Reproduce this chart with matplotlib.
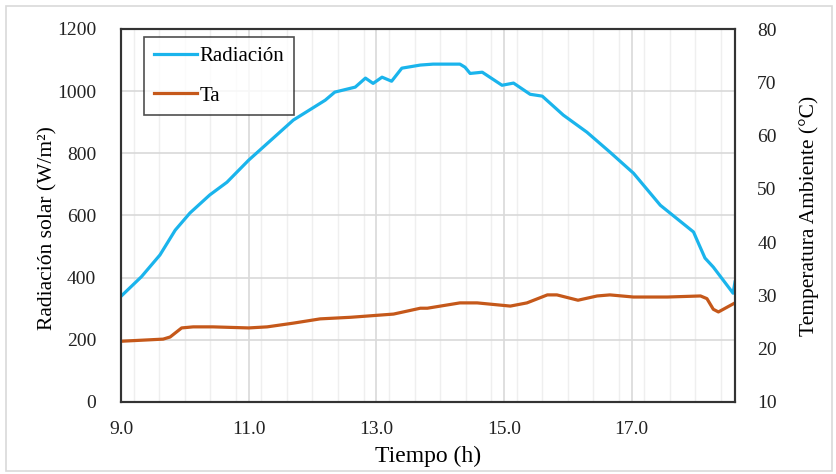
import numpy as np
import matplotlib
matplotlib.use("Agg")
import matplotlib.pyplot as plt
from matplotlib.patches import Rectangle
from matplotlib.ticker import MultipleLocator

# radiacion solar (W/m2) vs hora
t_rad = [9.0, 9.32, 9.61, 9.85, 10.08, 10.39, 10.66, 11.0, 11.7, 12.2, 12.35,
         12.67, 12.83, 12.95, 13.09, 13.24, 13.4, 13.69, 13.89, 14.31, 14.39,
         14.47, 14.66, 14.97, 15.15, 15.41, 15.6, 15.93, 16.3, 16.66, 17.03,
         17.45, 17.97, 18.04, 18.15, 18.28, 18.59, 18.62]
rad = [340, 403, 473, 553, 608, 666, 707, 778, 907, 971, 997,
       1013, 1042, 1025, 1045, 1032, 1074, 1084, 1087, 1087, 1077,
       1057, 1061, 1019, 1026, 990, 984, 923, 868, 804, 736,
       633, 547, 514, 463, 434, 350, 386]

# temperatura ambiente (C)
t_ta = [9.0, 9.66, 9.77, 9.95, 10.13, 10.44, 11.0, 11.29, 11.7, 12.12, 12.6,
        13.27, 13.69, 13.8, 14.31, 14.58, 15.1, 15.36, 15.68, 15.83, 16.16,
        16.46, 16.66, 17.03, 17.56, 18.08, 18.18, 18.28, 18.36, 18.62]
ta = [21.4, 21.8, 22.2, 23.9, 24.1, 24.1, 23.9, 24.1, 24.8, 25.6, 25.9,
      26.5, 27.6, 27.6, 28.6, 28.6, 28.0, 28.6, 30.1, 30.1, 29.1,
      29.9, 30.1, 29.7, 29.7, 29.9, 29.4, 27.4, 26.9, 28.6]

x_ticks = [9.0, 11.0, 13.0, 15.0, 17.0]

plt.rcParams['font.family'] = ['Liberation Serif', 'DejaVu Serif']

fig = plt.figure(figsize=(8.36, 4.74), dpi=100)
ax = fig.add_axes([121/836, 1 - 402/474, (735-121)/836, (402-29)/474])
ax2 = ax.twinx()

l1, = ax.plot(t_rad, rad, color='#1AB4EC', lw=2.3, label='Radiación')
l2, = ax2.plot(t_ta, ta, color='#C5581A', lw=2.3, label='Ta')

ax.set_xlim(9.0, 18.62)
ax.set_ylim(0, 1200)
ax2.set_ylim(10, 80)
ax.set_xticks(x_ticks)
ax.set_xticklabels([f"{v:.1f}" for v in x_ticks])
ax.xaxis.set_minor_locator(MultipleLocator(0.4))
ax.yaxis.set_major_locator(MultipleLocator(200))
ax2.yaxis.set_major_locator(MultipleLocator(10))

ax.grid(which='major', axis='both', color='#D9D9D9', lw=1.2)
ax.grid(which='minor', axis='x', color='#EFEFEF', lw=1.0)
ax.set_axisbelow(True)

for a in (ax, ax2):
    a.tick_params(which='both', length=0, labelsize=14, colors='#222222')
    for s in a.spines.values():
        s.set_color('#333333')
        s.set_linewidth(1.5)
ax.tick_params(axis='x', pad=14)
ax.tick_params(axis='y', pad=18)
ax2.tick_params(axis='y', pad=16)

ax.set_xlabel('Tiempo (h)', fontsize=17, labelpad=5)
ax.set_ylabel('Radiación solar (W/m²)', fontsize=15.5)
ax.yaxis.set_label_coords(-0.103, 0.465)
ax2.set_ylabel('Temperatura Ambiente (°C)', fontsize=15.5, labelpad=16)

leg = ax.legend(handles=[l1, l2], loc='upper left', bbox_to_anchor=(0.038, 0.978),
                prop={'family': 'Liberation Serif', 'size': 15},
                frameon=True, fancybox=False, borderpad=0.45,
                labelspacing=0.95, handlelength=2.1, handletextpad=0.1,
                borderaxespad=0)
leg.get_frame().set_edgecolor('#222222')
leg.get_frame().set_linewidth(1.2)

fig.patches.append(Rectangle((6/836, 3/474), 826/836, 465/474, transform=fig.transFigure,
                             fill=False, edgecolor='#D9D9D9', lw=1.2))

fig.savefig('out.png', dpi=100)
